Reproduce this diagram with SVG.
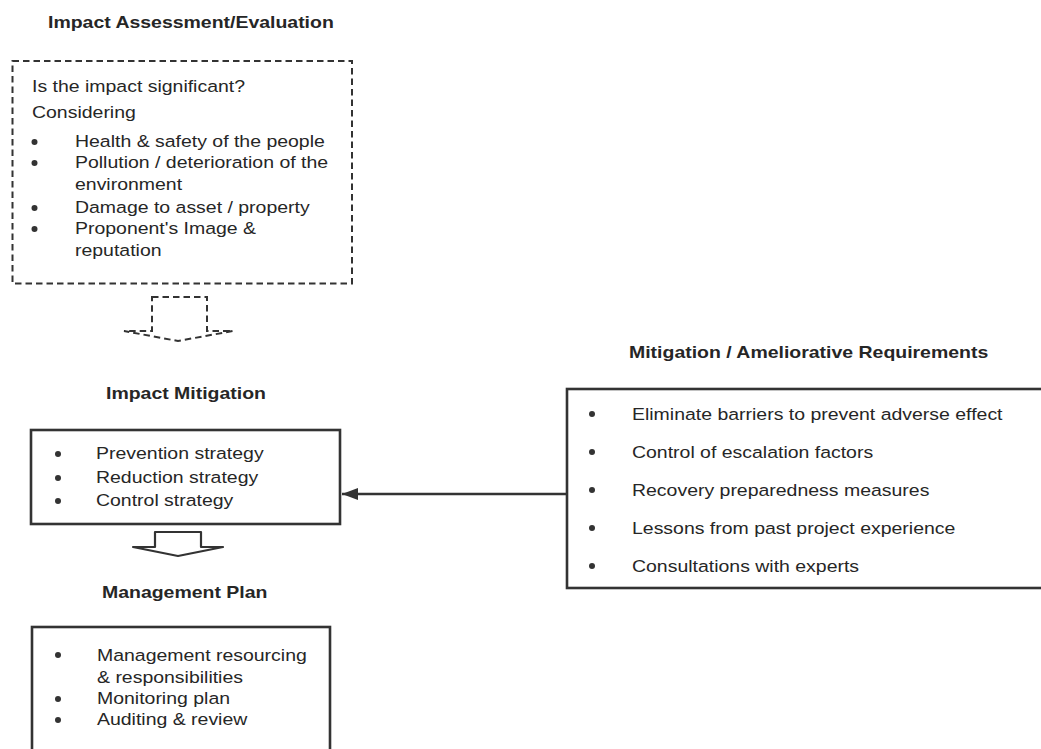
<svg xmlns="http://www.w3.org/2000/svg" width="1041" height="749" viewBox="0 0 1041 749">
  <style>
    text { font-family: "Liberation Sans", Arial, sans-serif; font-size: 16.5px; fill: #262626; }
    .title { font-weight: bold; }
    .box { fill: #ffffff; stroke: #333333; stroke-width: 2.6; }
    .dash { fill: none; stroke: #333333; stroke-width: 2; stroke-dasharray: 6.5 4; }
    .dot { fill: #333333; }
    .conn { stroke: #333333; stroke-width: 2.6; fill: none; }
  </style>
  <defs>
    <marker id="head" markerWidth="18" markerHeight="14" refX="16" refY="7" orient="auto" markerUnits="userSpaceOnUse">
      <path d="M0,1 L16,7 L0,13 Z" fill="#333333"/>
    </marker>
  </defs>

  <rect width="1041" height="749" fill="#ffffff"/>

  <!-- Impact assessment / evaluation -->
  <g id="assessment">
    <text class="title" transform="translate(48 28) scale(1.18 1)">Impact Assessment/Evaluation</text>
    <rect class="dash" x="12.5" y="61" width="339.5" height="222.5"/>
    <text transform="translate(32 92) scale(1.18 1)">Is the impact significant?</text>
    <text transform="translate(32 118) scale(1.18 1)">Considering</text>
    <circle class="dot" cx="34.5" cy="142" r="3"/>
    <text transform="translate(75 147) scale(1.18 1)">Health &amp; safety of the people</text>
    <circle class="dot" cx="34.5" cy="163" r="3"/>
    <text transform="translate(75 168) scale(1.18 1)">Pollution / deterioration of the</text>
    <text transform="translate(75 190) scale(1.18 1)">environment</text>
    <circle class="dot" cx="34.5" cy="208" r="3"/>
    <text transform="translate(75 213) scale(1.18 1)">Damage to asset / property</text>
    <circle class="dot" cx="34.5" cy="229" r="3"/>
    <text transform="translate(75 234) scale(1.18 1)">Proponent's Image &amp;</text>
    <text transform="translate(75 256) scale(1.18 1)">reputation</text>
  </g>

  <!-- Impact mitigation -->
  <g id="mitigation">
    <text class="title" transform="translate(106 399) scale(1.18 1)">Impact Mitigation</text>
    <rect class="box" x="31" y="430" width="309" height="94"/>
    <circle class="dot" cx="58" cy="454" r="3"/>
    <text transform="translate(96 459) scale(1.18 1)">Prevention strategy</text>
    <circle class="dot" cx="58" cy="478" r="3"/>
    <text transform="translate(96 483) scale(1.18 1)">Reduction strategy</text>
    <circle class="dot" cx="58" cy="501" r="3"/>
    <text transform="translate(96 506) scale(1.18 1)">Control strategy</text>
  </g>

  <!-- Management plan -->
  <g id="management">
    <text class="title" transform="translate(102 598) scale(1.18 1)">Management Plan</text>
    <rect class="box" x="32" y="627" width="298" height="140"/>
    <circle class="dot" cx="58" cy="655" r="3"/>
    <text transform="translate(97 661) scale(1.18 1)">Management resourcing</text>
    <text transform="translate(97 683) scale(1.18 1)">&amp; responsibilities</text>
    <circle class="dot" cx="58" cy="699" r="3"/>
    <text transform="translate(97 704) scale(1.18 1)">Monitoring plan</text>
    <circle class="dot" cx="58" cy="720" r="3"/>
    <text transform="translate(97 725) scale(1.18 1)">Auditing &amp; review</text>
  </g>

  <!-- Mitigation / ameliorative requirements -->
  <g id="requirements">
    <text class="title" transform="translate(629 358) scale(1.18 1)">Mitigation / Ameliorative Requirements</text>
    <rect class="box" x="567" y="389" width="490" height="199"/>
    <circle class="dot" cx="592" cy="414" r="3"/>
    <text transform="translate(632 420) scale(1.18 1)">Eliminate barriers to prevent adverse effect</text>
    <circle class="dot" cx="592" cy="452" r="3"/>
    <text transform="translate(632 458) scale(1.18 1)">Control of escalation factors</text>
    <circle class="dot" cx="592" cy="490" r="3"/>
    <text transform="translate(632 496) scale(1.18 1)">Recovery preparedness measures</text>
    <circle class="dot" cx="592" cy="528" r="3"/>
    <text transform="translate(632 534) scale(1.18 1)">Lessons from past project experience</text>
    <circle class="dot" cx="592" cy="566" r="3"/>
    <text transform="translate(632 572) scale(1.18 1)">Consultations with experts</text>
  </g>

  <!-- Connectors -->
  <g id="connectors">
    <path class="dash" d="M152,297 H207 V331 H233 L178,341 L124,331 H152 Z"/>
    <path d="M155,532 H201 V547 H223 L178,556 L133,547 H155 Z" fill="#ffffff" stroke="#333333" stroke-width="2.2" stroke-linejoin="round"/>
    <line class="conn" x1="566" y1="494" x2="342" y2="494" marker-end="url(#head)"/>
  </g>
</svg>
